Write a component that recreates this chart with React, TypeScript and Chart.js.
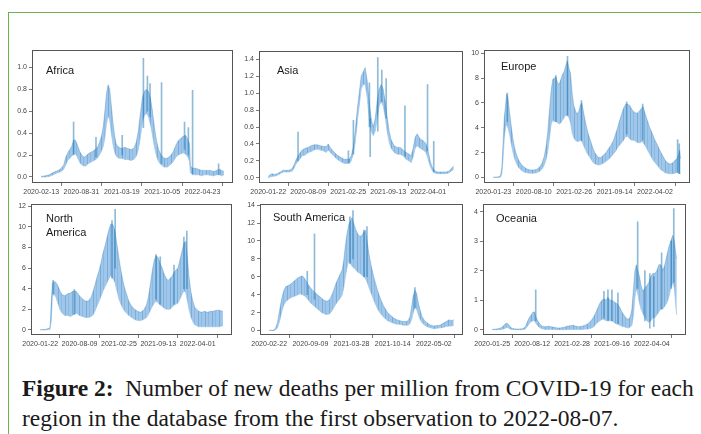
import React, { useEffect, useRef } from 'react';
import { Chart, registerables } from 'chart.js';

Chart.register(...registerables);

// Each band row: [days since first observation, low, high] of the daily series
const africaBand: number[][] = [
  [0,0,0.005],[20,0,0.01],[40,0.005,0.02],[55,0.015,0.035],[70,0.03,0.05],[85,0.04,0.06],[100,0.05,0.08],[112,0.07,0.11],[122,0.11,0.18],[132,0.15,0.22],[142,0.17,0.25],[152,0.19,0.28],[162,0.21,0.34],[172,0.21,0.33],[182,0.17,0.28],[192,0.13,0.23],[202,0.11,0.2],[212,0.1,0.18],[222,0.1,0.19],[232,0.12,0.21],[242,0.13,0.22],[252,0.14,0.23],[262,0.15,0.24],[272,0.16,0.26],[282,0.18,0.28],[292,0.21,0.33],[300,0.24,0.38],[308,0.28,0.46],[316,0.36,0.6],[324,0.48,0.76],[332,0.56,0.84],[340,0.52,0.8],[348,0.4,0.65],[356,0.3,0.5],[364,0.23,0.38],[372,0.19,0.3],[385,0.17,0.27],[400,0.17,0.26],[415,0.16,0.27],[430,0.16,0.26],[445,0.15,0.25],[460,0.16,0.26],[472,0.19,0.32],[482,0.25,0.42],[492,0.36,0.58],[502,0.5,0.72],[512,0.56,0.78],[522,0.58,0.8],[532,0.55,0.78],[542,0.48,0.72],[552,0.38,0.6],[562,0.27,0.45],[572,0.19,0.33],[582,0.14,0.25],[595,0.11,0.2],[610,0.09,0.17],[625,0.09,0.17],[640,0.11,0.19],[655,0.14,0.23],[668,0.18,0.29],[680,0.2,0.33],[692,0.21,0.35],[704,0.22,0.37],[716,0.21,0.38],[728,0.18,0.34],[736,0.14,0.3],[740,0.04,0.1],[750,0.02,0.08],[765,0.02,0.08],[780,0.02,0.07],[795,0.01,0.06],[810,0.02,0.06],[825,0.02,0.06],[840,0.015,0.06],[855,0.01,0.05],[870,0.02,0.06],[885,0.02,0.07],[895,0.01,0.06],[906,0.02,0.05]
];
const africaSpikes: number[][] = [
  [161,0.2,0.5],[272,0.18,0.36],[402,0.2,0.38],[507,0.45,1.08],[527,0.6,0.92],[540,0.55,0.85],[597,0.12,0.86],[711,0.25,0.5],[730,0.2,0.45],[751,0.03,0.79],[880,0.02,0.12]
];
const africaDates = ['2020-02-13','2020-08-31','2021-03-19','2021-10-05','2022-04-23'];
const africaY = [0,0.2,0.4,0.6,0.8,1.0];

const asiaBand: number[][] = [
  [0,0,0.02],[10,0.01,0.04],[20,0.02,0.05],[30,0.02,0.04],[45,0.03,0.05],[60,0.05,0.07],[75,0.07,0.09],[90,0.07,0.09],[105,0.07,0.09],[120,0.08,0.11],[130,0.12,0.16],[140,0.17,0.22],[150,0.2,0.26],[160,0.23,0.3],[170,0.26,0.33],[185,0.27,0.35],[200,0.3,0.36],[215,0.31,0.38],[230,0.33,0.39],[245,0.34,0.39],[260,0.33,0.38],[275,0.32,0.37],[290,0.3,0.37],[300,0.33,0.4],[310,0.3,0.36],[320,0.28,0.33],[335,0.24,0.29],[350,0.21,0.26],[365,0.19,0.24],[380,0.17,0.22],[395,0.17,0.22],[405,0.17,0.22],[415,0.2,0.26],[425,0.28,0.36],[435,0.42,0.55],[445,0.65,0.8],[455,0.85,1.0],[465,1.05,1.2],[475,1.1,1.25],[485,1.1,1.3],[495,0.95,1.15],[505,0.7,0.9],[515,0.55,0.7],[525,0.5,0.6],[535,0.55,0.7],[545,0.7,0.9],[555,0.85,1.05],[565,0.9,1.1],[575,0.85,1.05],[585,0.72,0.9],[595,0.55,0.72],[605,0.42,0.55],[615,0.35,0.45],[630,0.3,0.38],[645,0.28,0.36],[660,0.28,0.36],[675,0.26,0.33],[690,0.22,0.3],[705,0.2,0.28],[715,0.18,0.26],[725,0.25,0.35],[735,0.35,0.48],[745,0.38,0.52],[760,0.35,0.46],[775,0.33,0.44],[790,0.3,0.4],[800,0.22,0.32],[810,0.14,0.2],[820,0.09,0.13],[830,0.06,0.09],[845,0.05,0.07],[860,0.05,0.07],[875,0.05,0.07],[890,0.05,0.07],[905,0.06,0.08],[915,0.08,0.11],[928,0.1,0.14]
];
const asiaSpikes: number[][] = [
  [149,0.2,0.54],[401,0.18,0.32],[426,0.28,0.68],[506,0.6,1.12],[510,0.25,0.7],[548,0.55,1.42],[568,0.9,1.27],[590,0.7,1.17],[684,0.26,0.85],[797,0.32,1.1],[828,0.07,0.43]
];
const asiaDates = ['2020-01-22','2020-08-09','2021-02-25','2021-09-13','2022-04-01'];
const asiaY = [0,0.2,0.4,0.6,0.8,1.0,1.2,1.4];

const europeBand: number[][] = [
  [0,0,0.02],[20,0,0.03],[35,0.02,0.1],[42,0.3,0.8],[48,1.5,2.8],[54,3.2,4.8],[60,4.0,5.8],[66,4.3,6.7],[72,4.0,6.4],[80,3.5,5.3],[88,2.8,4.2],[96,2.1,3.2],[105,1.5,2.4],[115,1.1,1.8],[125,0.8,1.4],[140,0.55,1.0],[155,0.42,0.8],[170,0.36,0.65],[185,0.33,0.6],[200,0.34,0.6],[215,0.38,0.65],[230,0.5,0.85],[242,0.7,1.2],[252,1.0,1.7],[262,1.5,2.6],[270,2.2,3.8],[278,3.2,5.5],[286,4.3,7.0],[294,4.6,7.9],[302,4.5,8.0],[310,4.5,8.1],[318,4.4,7.6],[326,4.3,7.5],[334,4.4,7.9],[342,4.6,8.3],[350,4.8,8.5],[358,5.0,9.0],[366,5.0,9.4],[374,4.8,8.8],[382,4.4,8.4],[390,3.6,6.8],[398,3.2,5.8],[406,3.0,5.4],[414,2.9,5.1],[422,2.9,5.3],[430,3.0,5.8],[438,2.9,6.0],[446,2.6,5.3],[454,2.3,4.6],[462,2.0,4.0],[470,1.8,3.5],[478,1.6,3.1],[486,1.4,2.7],[494,1.2,2.3],[502,1.1,2.0],[510,1.05,1.8],[520,1.0,1.6],[532,1.05,1.6],[545,1.15,1.8],[558,1.3,2.0],[570,1.45,2.3],[582,1.65,2.6],[595,1.9,3.0],[605,2.1,3.5],[615,2.4,4.0],[625,2.6,4.6],[635,2.8,5.1],[645,3.0,5.6],[655,3.3,5.9],[665,3.3,5.9],[675,3.1,5.8],[685,3.0,5.5],[695,3.0,5.3],[705,2.9,5.2],[715,2.8,5.2],[725,2.8,5.4],[735,2.9,5.6],[742,2.8,5.7],[750,2.6,5.2],[760,2.3,4.7],[770,2.0,4.2],[780,1.7,3.8],[790,1.4,3.4],[800,1.2,3.0],[810,1.0,2.7],[820,0.8,2.3],[830,0.6,2.0],[840,0.5,1.7],[850,0.38,1.4],[860,0.33,1.2],[870,0.3,1.1],[880,0.3,1.1],[890,0.3,1.2],[900,0.35,1.4],[908,0.4,1.5],[916,0.35,1.8],[922,0.3,2.2],[927,0.3,1.5]
];
const europeSpikes: number[][] = [
  [69,4.5,6.8],[309,4.5,8.2],[367,5,9.75],[436,3,6.2],[660,3.5,6.1],[739,3,5.9],[912,0.4,3.05],[920,0.3,2.7]
];
const europeDates = ['2020-01-23','2020-08-10','2021-02-26','2021-09-14','2022-04-02'];
const europeY = [0,2,4,6,8,10];

const northAmericaBand: number[][] = [
  [0,0,0.02],[30,0,0.05],[50,0.05,0.2],[56,0.8,2.5],[62,3.2,4.5],[70,3.5,4.7],[80,3.2,4.6],[90,2.6,4.3],[100,2.0,3.8],[112,1.6,3.4],[125,1.4,3.3],[140,1.4,3.5],[155,1.3,3.6],[170,1.5,3.8],[185,1.6,3.7],[200,1.4,3.3],[215,1.3,3.0],[230,1.2,2.8],[245,1.2,2.8],[260,1.3,3.2],[270,1.5,3.8],[280,1.9,4.5],[290,2.4,5.2],[300,2.8,5.8],[310,3.3,6.6],[320,3.8,7.5],[330,4.2,8.2],[340,4.6,9.0],[350,5.0,9.8],[360,5.3,10.3],[370,5.0,10.2],[380,4.6,9.6],[390,3.8,8.3],[400,3.0,7.0],[410,2.5,5.8],[420,2.1,4.8],[430,1.8,4.0],[440,1.6,3.4],[450,1.4,2.8],[465,1.2,2.3],[480,1.0,2.0],[495,0.9,1.8],[510,0.9,1.7],[525,1.0,1.9],[540,1.2,2.4],[550,1.5,3.2],[560,1.9,4.5],[570,2.3,5.8],[580,2.6,6.8],[590,2.8,7.2],[600,2.6,7.0],[610,2.4,6.4],[620,2.3,6.0],[630,2.1,5.4],[640,2.0,5.0],[650,2.0,4.8],[660,2.0,5.0],[670,2.2,5.2],[680,2.4,5.6],[690,2.5,5.8],[700,2.6,6.0],[710,3.0,6.8],[720,3.4,7.6],[730,3.8,8.4],[740,3.6,8.6],[748,2.8,7.0],[756,2.0,5.2],[765,1.3,3.8],[775,0.8,2.8],[785,0.5,2.2],[795,0.4,2.0],[805,0.3,1.8],[820,0.3,1.7],[835,0.3,1.8],[850,0.3,1.7],[865,0.3,1.8],[880,0.3,1.8],[895,0.3,1.9],[910,0.3,1.9],[928,0.4,1.8]
];
const northAmericaSpikes: number[][] = [
  [66,3.5,4.8],[174,1.5,3.9],[365,5,10.6],[381,6,11.7],[588,3,7.3],[610,2.5,7.1],[680,2.5,6.3],[730,4,9.0],[745,4,9.6]
];
const northAmericaDates = ['2020-01-22','2020-08-09','2021-02-25','2021-09-13','2022-04-01'];
const northAmericaY = [0,2,4,6,8,10,12];

const southAmericaBand: number[][] = [
  [0,0,0.02],[20,0,0.05],[30,0.05,0.2],[40,0.3,0.9],[50,1.0,2.2],[60,2.0,3.5],[70,2.8,4.4],[80,3.2,4.9],[90,3.4,5.0],[100,3.6,5.1],[110,3.7,5.3],[120,3.8,5.5],[130,3.9,5.7],[140,4.0,5.9],[150,4.1,6.0],[160,4.0,6.1],[170,3.9,5.9],[180,3.7,5.5],[190,3.4,5.1],[200,3.1,4.8],[210,2.9,4.5],[225,2.6,4.2],[240,2.3,3.9],[255,2.0,3.6],[265,1.9,3.4],[275,1.8,3.3],[285,1.8,3.3],[295,1.9,3.5],[305,2.2,4.0],[315,2.6,4.6],[325,3.0,5.3],[335,3.3,5.8],[345,3.6,6.3],[355,4.0,6.8],[362,4.8,7.8],[370,6.0,9.5],[378,7.0,10.8],[386,7.8,11.8],[394,7.5,12.2],[402,7.2,12.6],[410,7.0,12.0],[420,6.8,11.3],[430,6.5,10.8],[440,6.4,10.5],[450,6.2,10.6],[460,6.0,11.0],[468,5.8,11.2],[476,5.4,10.0],[485,4.8,8.5],[495,4.2,7.3],[505,3.6,6.3],[515,3.0,5.4],[525,2.5,4.6],[535,2.1,3.9],[545,1.8,3.3],[555,1.5,2.8],[565,1.3,2.4],[575,1.1,2.0],[585,1.0,1.8],[595,0.9,1.6],[605,0.8,1.4],[620,0.7,1.2],[635,0.7,1.1],[650,0.6,1.0],[665,0.6,1.0],[675,0.6,1.1],[685,0.8,1.6],[693,1.3,2.8],[700,2.0,3.9],[708,2.6,4.5],[716,2.4,4.2],[724,1.8,3.2],[732,1.3,2.4],[742,0.9,1.6],[755,0.6,1.1],[770,0.4,0.8],[785,0.3,0.6],[800,0.2,0.5],[815,0.25,0.55],[830,0.3,0.6],[845,0.35,0.8],[860,0.45,1.0],[875,0.5,1.2],[885,0.5,1.1],[897,0.6,1.2]
];
const southAmericaSpikes: number[][] = [
  [185,4,6.6],[220,3.5,10.8],[392,7.5,12.7],[407,8,13.4],[460,6,11.2],[475,6,11.6],[708,2.5,4.8]
];
const southAmericaDates = ['2020-02-22','2020-09-09','2021-03-28','2021-10-14','2022-05-02'];
const southAmericaY = [0,2,4,6,8,10,12,14];

const oceaniaBand: number[][] = [
  [0,0,0.01],[20,0,0.02],[40,0,0.05],[55,0.02,0.12],[65,0.05,0.2],[75,0.08,0.22],[85,0.04,0.15],[95,0.01,0.06],[110,0,0.03],[130,0,0.02],[150,0,0.03],[165,0.02,0.08],[175,0.1,0.25],[185,0.2,0.4],[195,0.28,0.5],[205,0.3,0.6],[212,0.3,0.6],[220,0.2,0.42],[230,0.12,0.28],[240,0.06,0.18],[250,0.03,0.12],[265,0.01,0.1],[280,0.01,0.12],[295,0.01,0.1],[310,0.01,0.08],[325,0,0.06],[340,0,0.06],[360,0,0.08],[375,0.01,0.12],[390,0.01,0.13],[405,0.01,0.15],[420,0.01,0.12],[435,0.01,0.1],[450,0.01,0.12],[465,0.02,0.15],[480,0.02,0.2],[495,0.05,0.3],[510,0.1,0.45],[520,0.2,0.6],[530,0.25,0.75],[540,0.3,0.9],[550,0.35,1.0],[560,0.35,1.05],[570,0.3,1.0],[580,0.32,1.1],[590,0.3,1.0],[600,0.3,1.0],[610,0.25,0.95],[620,0.2,0.9],[630,0.18,0.85],[640,0.15,0.75],[650,0.12,0.6],[660,0.1,0.5],[670,0.08,0.4],[680,0.06,0.35],[690,0.08,0.4],[700,0.15,0.7],[708,0.5,1.4],[715,1.1,2.0],[722,1.4,2.2],[730,1.2,2.0],[738,0.9,1.8],[746,0.7,1.5],[755,0.55,1.3],[765,0.4,1.4],[775,0.3,1.5],[785,0.25,1.6],[795,0.3,1.8],[805,0.4,1.9],[815,0.4,1.9],[825,0.5,2.0],[835,0.6,2.2],[845,0.7,2.2],[855,0.7,2.0],[865,0.8,2.2],[875,0.9,2.5],[885,1.1,2.8],[895,1.4,3.0],[905,1.6,3.2],[913,1.4,3.0],[920,0.8,2.6],[925,0.5,2.4]
];
const oceaniaSpikes: number[][] = [
  [218,0.3,1.35],[560,0.4,1.3],[580,0.3,1.35],[600,0.3,1.35],[630,0.2,1.25],[729,1.4,3.65],[765,0.3,2.0],[790,0.05,1.9],[810,0.1,1.8],[849,0.7,2.6],[897,1.4,3.0],[910,1.6,4.1]
];
const oceaniaDates = ['2020-01-25','2020-08-12','2021-02-28','2021-09-16','2022-04-04'];
const oceaniaY = [0,1,2,3,4];

const xTickDays = [0, 200, 400, 600, 800];

const LINE = 'rgba(31,119,180,0.5)';
const SPIKE = 'rgba(31,119,180,0.5)';
const AXIS = '#555';

type Panel = {
  title: string[];
  band: number[][];
  spikes: number[][];
  dates: string[];
  yTicks: number[];
  dec: number;
  yMin: number;
  yMax: number;
  box: number[];
  label: number[];
};

const panels: Panel[] = [
  { title: ['Africa'], band: africaBand, spikes: africaSpikes, dates: africaDates, yTicks: africaY, dec: 1, yMin: -0.055, yMax: 1.155, box: [32, 50, 233, 183], label: [14, 21] },
  { title: ['Asia'], band: asiaBand, spikes: asiaSpikes, dates: asiaDates, yTicks: asiaY, dec: 1, yMin: -0.06, yMax: 1.494, box: [259, 51, 463, 183], label: [18, 20] },
  { title: ['Europe'], band: europeBand, spikes: europeSpikes, dates: europeDates, yTicks: europeY, dec: 0, yMin: -0.45, yMax: 10.25, box: [484, 50, 690, 183], label: [17, 17] },
  { title: ['North', 'America'], band: northAmericaBand, spikes: northAmericaSpikes, dates: northAmericaDates, yTicks: northAmericaY, dec: 0, yMin: -0.5, yMax: 12.2, box: [31, 204, 232, 335], label: [15, 15] },
  { title: ['South America'], band: southAmericaBand, spikes: southAmericaSpikes, dates: southAmericaDates, yTicks: southAmericaY, dec: 0, yMin: -0.5, yMax: 14.1, box: [260, 204, 463, 335], label: [13, 14] },
  { title: ['Oceania'], band: oceaniaBand, spikes: oceaniaSpikes, dates: oceaniaDates, yTicks: oceaniaY, dec: 0, yMin: -0.18, yMax: 4.25, box: [483, 204, 686, 335], label: [13, 15] },
];

const PAD_L = 30, PAD_T = 6, PAD_R = 6, PAD_B = 22;

function makeStripes(): CanvasPattern | string {
  const c = document.createElement('canvas');
  c.width = 7;
  c.height = 1;
  const g = c.getContext('2d');
  if (!g) return 'rgba(150,193,230,0.9)';
  g.fillStyle = 'rgb(160,199,233)';
  g.fillRect(0, 0, 7, 1);
  g.fillStyle = 'rgb(122,173,218)';
  g.fillRect(1, 0, 1, 1);
  g.fillStyle = 'rgb(140,186,226)';
  g.fillRect(4, 0, 1, 1);
  return g.createPattern(c, 'repeat') || 'rgba(150,193,230,0.9)';
}

function PanelChart({ p }: { p: Panel }) {
  const ref = useRef<HTMLCanvasElement | null>(null);
  useEffect(() => {
    if (!ref.current) return;
    const last = p.band[p.band.length - 1][0];
    const fill = makeStripes();
    const framePlugin = {
      id: 'frame',
      afterDraw(chart: any) {
        const { ctx, chartArea: a } = chart;
        ctx.save();
        ctx.strokeStyle = AXIS;
        ctx.lineWidth = 1;
        ctx.strokeRect(Math.round(a.left) + 0.5, Math.round(a.top) + 0.5, Math.round(a.right - a.left) - 1, Math.round(a.bottom - a.top) - 1);
        ctx.fillStyle = '#1a1a1a';
        ctx.font = '11px "Liberation Sans", Arial, sans-serif';
        ctx.textBaseline = 'middle';
        p.title.forEach((t, i) => ctx.fillText(t, a.left + p.label[0], a.top + p.label[1] + i * 14));
        ctx.restore();
      },
    };
    const chart = new Chart(ref.current, {
      type: 'line',
      data: {
        datasets: [
          { data: p.band.map((r) => ({ x: r[0], y: r[2] })), borderColor: LINE, borderWidth: 0.6, backgroundColor: fill, fill: '+1', pointRadius: 0, tension: 0, order: 2 } as any,
          { data: p.band.map((r) => ({ x: r[0], y: r[1] })), borderColor: LINE, borderWidth: 0.6, fill: false, pointRadius: 0, tension: 0, order: 2 } as any,
          { type: 'bar', data: p.spikes.map((s) => ({ x: s[0], y: [s[1], s[2]] })), backgroundColor: SPIKE, barThickness: 1, order: 1 } as any,
        ],
      },
      options: {
        animation: false,
        responsive: false,
        maintainAspectRatio: false,
        events: [],
        layout: { padding: { left: 0, top: PAD_T, right: PAD_R, bottom: 0 } },
        plugins: { legend: { display: false }, tooltip: { enabled: false }, title: { display: false } },
        scales: {
          x: {
            type: 'linear',
            offset: false,
            min: -0.05 * last,
            max: 1.05 * last,
            afterBuildTicks: (s: any) => { s.ticks = xTickDays.map((v) => ({ value: v })); },
            afterFit: (s: any) => { s.height = PAD_B; },
            grid: { display: true, drawOnChartArea: false, drawTicks: true, tickLength: 3, color: AXIS, lineWidth: 0.8 },
            border: { display: false },
            ticks: {
              autoSkip: false, maxRotation: 0, minRotation: 0, padding: 2,
              color: '#444', font: { family: '"Liberation Sans", Arial, sans-serif', size: 7 },
              callback: (v: any) => p.dates[xTickDays.indexOf(Number(v))] ?? '',
            },
          },
          y: {
            type: 'linear',
            min: p.yMin,
            max: p.yMax,
            afterBuildTicks: (s: any) => { s.ticks = p.yTicks.map((v) => ({ value: v })); },
            afterFit: (s: any) => { s.width = PAD_L; },
            grid: { display: true, drawOnChartArea: false, drawTicks: true, tickLength: 3, color: AXIS, lineWidth: 0.8 },
            border: { display: false },
            ticks: {
              padding: 2, color: '#444', font: { family: '"Liberation Sans", Arial, sans-serif', size: 7 },
              callback: (v: any) => Number(v).toFixed(p.dec),
            },
          },
        },
      } as any,
      plugins: [framePlugin],
    });
    return () => chart.destroy();
  }, [p]);
  const [l, t, r, b] = p.box;
  const w = r - l + PAD_L + PAD_R;
  const h = b - t + PAD_T + PAD_B;
  return (
    <canvas
      ref={ref}
      width={w}
      height={h}
      style={{ position: 'absolute', left: l - PAD_L, top: t - PAD_T, width: w, height: h }}
    />
  );
}

export default function App() {
  return (
    <div style={{ position: 'fixed', left: 0, top: 0, width: 701, height: 434, background: '#fff', overflow: 'hidden' }}>
      <div style={{ position: 'absolute', left: 8, top: 12, right: -4, bottom: -4, borderLeft: '1px solid #6db34d', borderTop: '1px solid #6db34d' }} />
      {panels.map((p, i) => (
        <PanelChart key={i} p={p} />
      ))}
      <div style={{ position: 'absolute', left: 22, top: 373, fontFamily: '"Liberation Serif", "DejaVu Serif", serif', fontSize: 23.5, lineHeight: '30px', color: '#1a1a1a', whiteSpace: 'nowrap' }}>
        <div><b>Figure 2:</b>&nbsp; Number of new deaths per million from COVID-19 for each</div>
        <div>region in the database from the first observation to 2022-08-07.</div>
      </div>
    </div>
  );
}
